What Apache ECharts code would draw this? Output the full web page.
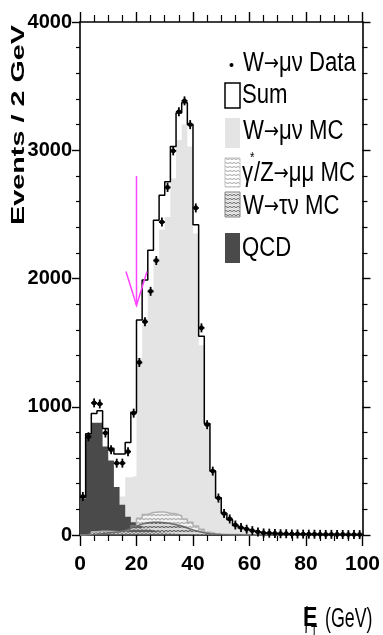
<!DOCTYPE html>
<html>
<head>
<meta charset="utf-8">
<script src="https://cdn.jsdelivr.net/npm/echarts@6/dist/echarts.min.js"></script>
</head>
<body style="margin:0; background:#fff">
<div id="container" style="width:383px; height:635px"></div>
<script>
// 2 GeV bins, 0..100 GeV
var binWidth = 2;
var dataCounts = [300, 766, 1030, 1022, 795, 665, 560, 560, 650, 950,
    1345, 1663, 1900, 2140, 2440, 2710, 2995, 3300, 3385, 3200,
    2550, 1615, 860, 498, 288, 167, 125, 78, 58, 45,
    34, 24, 16, 14, 12, 10, 10, 8, 8, 7,
    6, 6, 5, 4, 5, 4, 4, 3, 3, 3];
var sumMC = [295, 790, 948, 969, 831, 676, 631, 631, 722, 958,
    1676, 1988, 2221, 2455, 2650, 2755, 3030, 3290, 3370, 3200,
    2420, 1550, 870, 500, 290, 170, 118, 75, 55, 42,
    32, 23, 16, 13, 11, 9, 8, 7, 6, 6,
    5, 5, 4, 4, 4, 3, 3, 3, 3, 3];
var wmunuMC = [5, 5, 10, 20, 40, 60, 200, 300, 450, 460,
    1380, 1690, 1920, 2160, 2380, 2480, 2780, 3080, 3200, 3030,
    2350, 1480, 840, 480, 275, 160, 110, 70, 50, 38,
    28, 20, 14, 11, 9, 8, 7, 6, 5, 5,
    4, 4, 3, 3, 3, 2, 2, 2, 2, 2];
var zmumuMC = [0, 5, 25, 30, 30, 28, 25, 30, 40, 70,
    130, 160, 175, 180, 180, 170, 165, 150, 125, 100,
    70, 45, 22, 12, 8, 5, 4, 3, 2, 2,
    1, 1, 1, 1, 0, 0, 0, 0, 0, 0,
    0, 0, 0, 0, 0, 0, 0, 0, 0, 0];
var wtaunuMC = [0, 0, 5, 10, 15, 20, 25, 35, 50, 70,
    85, 95, 100, 100, 95, 90, 80, 70, 55, 40,
    28, 18, 10, 6, 3, 2, 1, 1, 0, 0,
    0, 0, 0, 0, 0, 0, 0, 0, 0, 0,
    0, 0, 0, 0, 0, 0, 0, 0, 0, 0];
var qcdMC = [285, 785, 876, 876, 690, 580, 375, 235, 143, 100,
    70, 50, 36, 26, 20, 15, 11, 8, 6, 5,
    4, 3, 3, 2, 2, 2, 1, 1, 1, 1,
    0, 0, 0, 0, 0, 0, 0, 0, 0, 0,
    0, 0, 0, 0, 0, 0, 0, 0, 0, 0];
// cut arrow: ET = 20 GeV
var cutX = 20, arrowTop = 2800, arrowTip = 1790;

var sans = '"Liberation Sans", Arial, sans-serif';
var arrowFont = '"DejaVu Sans", sans-serif';

function stepData(arr) {
    var out = [];
    for (var i = 0; i < arr.length; i++) out.push([i * binWidth, arr[i]]);
    out.push([arr.length * binWidth, arr[arr.length - 1]]);
    return out;
}
function pointData(arr) {
    return arr.map(function (v, i) { return [i * binWidth + binWidth / 2, v]; });
}

// ROOT-like hatch: lines only, transparent between them
function hatch(light, dark) {
    var c = document.createElement('canvas');
    c.width = 4; c.height = 4;
    var g = c.getContext('2d');
    g.lineWidth = 1;
    g.strokeStyle = light;
    g.beginPath(); g.moveTo(0, 1.5); g.lineTo(2, 0.5); g.lineTo(4, 1.5); g.stroke();
    g.strokeStyle = dark;
    g.beginPath(); g.moveTo(0, 3.5); g.lineTo(2, 2.5); g.lineTo(4, 3.5); g.stroke();
    return c;
}
var zHatch = { image: hatch('#ffffff', '#a4a4a4'), repeat: 'repeat' };
var tauHatch = { image: hatch('#c8c8c8', '#505050'), repeat: 'repeat' };

function histSeries(name, arr, fill, stroke, z) {
    return {
        type: 'line', name: name, step: 'end', z: z,
        data: stepData(arr), symbol: 'none', silent: true,
        lineStyle: { width: stroke ? 1.5 : 0, color: stroke || fill },
        areaStyle: { color: fill, opacity: 1 }
    };
}

function renderPoint(params, api) {
    var c = api.coord([api.value(0), api.value(1)]);
    var st = { stroke: '#000', lineWidth: 1.8 };
    return {
        type: 'group',
        children: [
            { type: 'line', shape: { x1: c[0] - 3, y1: c[1], x2: c[0] + 3, y2: c[1] }, style: st },
            { type: 'line', shape: { x1: c[0], y1: c[1] - 4.5, x2: c[0], y2: c[1] + 4.5 }, style: st },
            { type: 'circle', shape: { cx: c[0], cy: c[1], r: 2.4 }, style: { fill: '#000' } }
        ]
    };
}

function renderArrow(params, api) {
    var top = api.coord([cutX, arrowTop]);
    var tip = api.coord([cutX, arrowTip]);
    var st = { stroke: '#ff44ff', lineWidth: 1.5, fill: null };
    return {
        type: 'group',
        children: [
            { type: 'line', shape: { x1: top[0], y1: top[1], x2: tip[0], y2: tip[1] }, style: st },
            { type: 'polyline', shape: { points: [[tip[0] - 10.5, tip[1] - 34], [tip[0], tip[1]], [tip[0] + 10.5, tip[1] - 34]] }, style: st }
        ]
    };
}

var richParts = {
    a: { font: '27px ' + sans, fill: '#000' },
    b: { font: '22px ' + arrowFont, fill: '#000' },
    s: { font: '14px ' + sans, fill: '#000' }
};
function legendLabel(x, y, text) {
    return { type: 'text', x: x, y: y, scaleX: 0.82,
        style: { text: text, rich: richParts, textVerticalAlign: 'middle' } };
}

var axisLine = { show: true, onZero: false, lineStyle: { color: '#000', width: 1.6 } };
var plainNum = function (v) { return String(v); };

var graphics = [
    { type: 'circle', shape: { cx: 231.5, cy: 65, r: 2 }, style: { fill: '#000' } },
    { type: 'rect', shape: { x: 225, y: 83, width: 15, height: 25 }, style: { fill: '#fff', stroke: '#000', lineWidth: 1.5 } },
    { type: 'rect', shape: { x: 225, y: 118, width: 15, height: 30 }, style: { fill: '#e4e4e4' } },
    { type: 'rect', shape: { x: 225, y: 158, width: 15, height: 29 }, style: { fill: zHatch, stroke: '#c0c0c0', lineWidth: 1 } },
    { type: 'rect', shape: { x: 225, y: 192, width: 15, height: 25 }, style: { fill: tauHatch, stroke: '#808080', lineWidth: 1 } },
    { type: 'rect', shape: { x: 225, y: 233, width: 15, height: 30 }, style: { fill: '#4a4a4a' } },
    legendLabel(243, 64, '{a|W}{b|→}{a|μν Data}'),
    legendLabel(242, 96, '{a|Sum}'),
    legendLabel(243, 132, '{a|W}{b|→}{a|μν MC}'),
    legendLabel(242, 174, '{a|γ}'),
    legendLabel(250, 158, '{s|*}'),
    legendLabel(254, 174, '{a|/Z}{b|→}{a|μμ MC}'),
    legendLabel(243, 207, '{a|W}{b|→}{a|τν MC}'),
    legendLabel(242, 249, '{a|QCD}'),
    // y axis title
    { type: 'text', x: 19, y: 125, rotation: Math.PI / 2, scaleX: 1.6,
      style: { text: 'Events / 2 GeV', fill: '#000', font: 'bold 18px ' + sans, textAlign: 'center', textVerticalAlign: 'middle' } },
    // x axis title
    { type: 'text', x: 303, y: 619, scaleX: 0.8, style: { text: 'E', fill: '#000', font: 'bold 27px ' + sans, textVerticalAlign: 'middle' } },
    { type: 'text', x: 311, y: 631, scaleX: 0.8, style: { text: 'T', fill: '#000', font: '13px ' + sans, textVerticalAlign: 'middle' } },
    { type: 'line', shape: { x1: 307, y1: 606, x2: 306, y2: 633 }, style: { stroke: '#000', lineWidth: 1.2 } },
    { type: 'text', x: 325, y: 620, scaleX: 0.66, style: { text: '(GeV)', fill: '#000', font: '27px ' + sans, textVerticalAlign: 'middle' } }
];

var dom = document.getElementById('container');
var myChart = echarts.init(dom, null, { renderer: 'canvas' });
var option = {
    animation: false,
    backgroundColor: '#fff',
    grid: { left: 80, right: 12, top: 22, bottom: 100 },
    xAxis: [{
        type: 'value', min: 0, max: 100, interval: 20, position: 'bottom',
        axisLine: axisLine,
        axisTick: { show: true, length: 11, lineStyle: { color: '#000', width: 1.4 } },
        minorTick: { show: true, splitNumber: 4, length: 6, lineStyle: { color: '#000', width: 1.2 } },
        axisLabel: { color: '#000', fontFamily: sans, fontWeight: 'bold', fontSize: 21, margin: 19, formatter: plainNum },
        splitLine: { show: false }
    }, {
        type: 'value', min: 0, max: 100, interval: 20, position: 'top',
        axisLine: axisLine,
        axisTick: { show: true, length: 10, lineStyle: { color: '#000', width: 1.4 } },
        minorTick: { show: true, splitNumber: 4, length: 7, lineStyle: { color: '#000', width: 1.2 } },
        axisLabel: { show: false }, splitLine: { show: false }
    }],
    yAxis: [{
        type: 'value', min: 0, max: 4000, interval: 1000, position: 'left',
        axisLine: axisLine,
        axisTick: { show: true, length: 8, lineStyle: { color: '#000', width: 1.4 } },
        minorTick: { show: true, splitNumber: 5, length: 4, lineStyle: { color: '#000', width: 1.2 } },
        axisLabel: { color: '#000', fontFamily: sans, fontWeight: 'bold', fontSize: 20, margin: 8, formatter: plainNum },
        splitLine: { show: false }
    }, {
        type: 'value', min: 0, max: 4000, interval: 1000, position: 'right',
        axisLine: axisLine,
        axisTick: { show: true, length: 8, lineStyle: { color: '#000', width: 1.4 } },
        minorTick: { show: true, splitNumber: 5, length: 5, lineStyle: { color: '#000', width: 1.2 } },
        axisLabel: { show: false }, splitLine: { show: false }
    }],
    series: [
        histSeries('W→μν MC', wmunuMC, '#e4e4e4', null, 1),
        histSeries('QCD', qcdMC, '#4a4a4a', null, 2),
        histSeries('γ*/Z→μμ MC', zmumuMC, zHatch, '#b0b0b0', 3),
        histSeries('W→τν MC', wtaunuMC, tauHatch, '#6a6a6a', 4),
        {
            type: 'line', name: 'Sum', step: 'end', z: 5, data: stepData(sumMC),
            symbol: 'none', silent: true, lineStyle: { color: '#000', width: 1.5 }
        },
        {
            type: 'custom', name: 'W→μν Data', z: 6, renderItem: renderPoint,
            data: pointData(dataCounts), silent: true
        },
        {
            type: 'custom', name: 'cut', z: 7, renderItem: renderArrow,
            data: [[cutX, arrowTip]], silent: true
        }
    ],
    graphic: graphics
};
myChart.setOption(option);
</script>
</body>
</html>
